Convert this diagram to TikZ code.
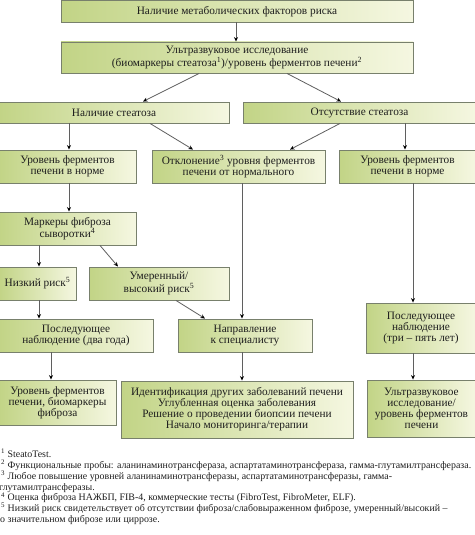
\documentclass[tikz,border=0pt]{standalone}
\usepackage{fontspec}
\setmainfont{Liberation Serif}
\usetikzlibrary{arrows.meta}
\definecolor{boxleft}{RGB}{194,212,134}
\definecolor{boxright}{RGB}{245,247,225}
\definecolor{boxline}{RGB}{120,128,108}
\definecolor{arrline}{RGB}{95,95,95}
\definecolor{txt}{RGB}{30,30,30}
\tikzset{
  box/.style={draw=boxline, line width=0.9pt, left color=boxleft, right color=boxright,
    inner sep=0pt, align=center, text=txt, font=\fontsize{11.3}{11}\selectfont},
  arr/.style={draw=arrline, line width=0.8pt, -{Stealth[length=4.5pt,width=4pt,color=black]}},
  fn/.style={anchor=base west, inner sep=0pt, text=txt, font=\fontsize{9.9}{10.8}\selectfont}
}
\newcommand\mybox[6]{\node[box, minimum width={#4pt-#2pt}, minimum height={#5pt-#3pt}] (#1) at ({(#2+#4)/2},{(#3+#5)/2}) {#6};}
\begin{document}
\begin{tikzpicture}[x=1pt,y=-1pt]
\useasboundingbox[fill=white] (0,0) rectangle (474,535);
\mybox{b1}{61}{0.5}{413}{22}{Наличие метаболических факторов риска}
\mybox{b2}{61}{42}{413}{73}{Ультразвуковое исследование\\(биомаркеры стеатоза\textsuperscript{1})/уровень ферментов печени\textsuperscript{2}}
\mybox{b3}{-1}{102}{229}{123}{Наличие стеатоза}
\mybox{b4}{243}{102}{476}{123}{Отсутствие стеатоза}
\mybox{b5}{-1}{150}{136}{183}{Уровень ферментов\\печени в норме}
\mybox{b6}{152}{150}{325}{183}{Отклонение\textsuperscript{3} уровня ферментов\\печени от нормального}
\mybox{b7}{339}{150}{476}{183}{Уровень ферментов\\печени в норме}
\mybox{b8}{-1}{212}{136}{245}{Маркеры фиброза\\сыворотки\textsuperscript{4}}
\mybox{b9}{-1}{267}{76}{300}{Низкий риск\textsuperscript{5}}
\mybox{b10}{89}{267}{229}{300}{Умеренный/\\высокий риск\textsuperscript{5}}
\mybox{b11}{-1}{319}{153}{352}{Последующее\\наблюдение (два года)}
\mybox{b12}{178}{319}{312}{352}{Направление\\к специалисту}
\mybox{b13}{366}{303}{476}{353}{Последующее\\наблюдение\\(три – пять лет)}
\mybox{b14}{-1}{380}{116}{425}{Уровень ферментов\\печени, биомаркеры\\фиброза}
\mybox{b15}{121}{381}{353}{438}{Идентификация других заболеваний печени\\Углубленная оценка заболевания\\Решение о проведении биопсии печени\\Начало мониторинга/терапии}
\mybox{b16}{367}{380}{476}{437}{Ультразвуковое\\исследование/\\уровень ферментов\\печени}

\draw[arr] (b1.south -| 236,0) -- (b2.north -| 236,0);
\draw[arr] (b2.south -| 199,0) -- (b3.north -| 143,0);
\draw[arr] (b2.south -| 287,0) -- (b4.north -| 341,0);
\draw[arr] (b3.south -| 69,0) -- (b5.north -| 69,0);
\draw[arr] (b3.south -| 150,0) -- (b6.north -| 193,0);
\draw[arr] (b4.south -| 340,0) -- (b6.north -| 290,0);
\draw[arr] (b4.south -| 405,0) -- (b7.north -| 405,0);
\draw[arr] (b5.south -| 69,0) -- (b8.north -| 69,0);
\draw[arr] (b6.south -| 242,0) -- (b12.north -| 242,0);
\draw[arr] (b7.south -| 413,0) -- (b13.north -| 413,0);
\draw[arr] (b8.south -| 39,0) -- (b9.north -| 39,0);
\draw[arr] (b8.south -| 100,0) -- (b10.north -| 118,0);
\draw[arr] (b9.south -| 39,0) -- (b11.north -| 39,0);
\draw[arr] (b10.south -| 176,0) -- (b12.north -| 205,0);
\draw[arr] (b11.south -| 51,0) -- (b14.north -| 51,0);
\draw[arr] (b12.south -| 242,0) -- (b15.north -| 242,0);
\draw[arr] (b13.south -| 413,0) -- (b16.north -| 413,0);

\node[fn] (f1) at (1,457.5) {\textsuperscript{1} SteatoTest.};
\node[fn] (f2) at (1,468.3) {\textsuperscript{2} Функциональные пробы: аланинаминотрансфераза, аспартатаминотрансфераза, гамма-глутамилтрансфераза.};
\node[fn] (f3) at (1,479.1) {\textsuperscript{3} Любое повышение уровней аланинаминотрансферазы, аспартатаминотрансферазы, гамма-};
\node[fn] (f3b) at (-1,490) {глутамилтрансферазы.};
\node[fn] (f4) at (1,500.8) {\textsuperscript{4} Оценка фиброза НАЖБП, FIB-4, коммерческие тесты (FibroTest, FibroMeter, ELF).};
\node[fn] (f5) at (1,511.6) {\textsuperscript{5} Низкий риск свидетельствует об отсутствии фиброза/слабовыраженном фиброзе, умеренный/высокий –};
\node[fn] (f5b) at (0,522.5) {о значительном фиброзе или циррозе.};
\end{tikzpicture}
\end{document}
